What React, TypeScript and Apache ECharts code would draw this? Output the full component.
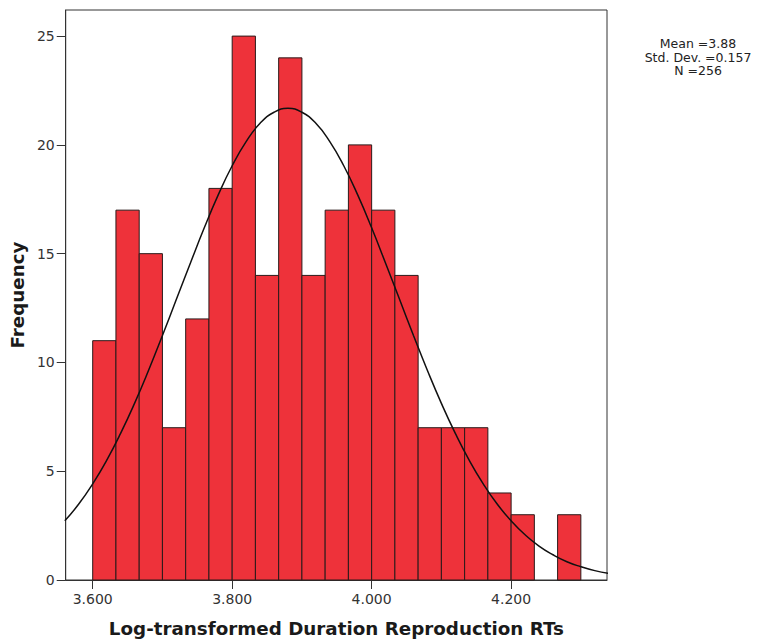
import React, { useEffect, useRef } from "react";
import * as echarts from "echarts";

// Histogram bins: first bin starts at 3.600, each bin is 1/30 wide
const binStart = 3.6;
const binWidth = 1 / 30;
const counts = [11, 17, 15, 7, 12, 18, 25, 14, 24, 14, 17, 20, 17, 14, 7, 7, 7, 4, 3, 0, 3];

// Fitted normal curve
const curveX = [
  3.56, 3.58, 3.6, 3.62, 3.64, 3.66, 3.68, 3.7, 3.72, 3.74, 3.76, 3.78, 3.8, 3.82, 3.84, 3.86, 3.88,
  3.9, 3.92, 3.94, 3.96, 3.98, 4.0, 4.02, 4.04, 4.06, 4.08, 4.1, 4.12, 4.14, 4.16, 4.18, 4.2, 4.22,
  4.24, 4.26, 4.28, 4.3, 4.32, 4.34,
];
const curveY = [
  2.72, 3.49, 4.42, 5.5, 6.74, 8.12, 9.63, 11.24, 12.9, 14.56, 16.19, 17.7, 19.04, 20.15, 20.99,
  21.5, 21.68, 21.5, 20.99, 20.15, 19.04, 17.7, 16.19, 14.56, 12.9, 11.24, 9.63, 8.12, 6.74, 5.5,
  4.42, 3.49, 2.72, 2.08, 1.56, 1.16, 0.84, 0.61, 0.43, 0.3,
];

const xTicks = [3.6, 3.8, 4.0, 4.2];
const yTicks = [0, 5, 10, 15, 20, 25];
const statsLines = ["Mean =3.88", "Std. Dev. =0.157", "N =256"];
const xTitle = "Log-transformed Duration Reproduction RTs";
const yTitle = "Frequency";

const FONT = "DejaVu Sans";

export default function App() {
  const ref = useRef<HTMLDivElement>(null);
  useEffect(() => {
    if (!ref.current) return;
    const chart = echarts.init(ref.current, null, { renderer: "svg" });
    const barData = counts.map((c, i) => [binStart + i * binWidth, binStart + (i + 1) * binWidth, c]);
    chart.setOption({
      animation: false,
      backgroundColor: "#ffffff",
      grid: {
        left: 65,
        right: 158,
        top: 10,
        bottom: 62,
        show: true,
        borderColor: "#333333",
        borderWidth: 1,
        backgroundColor: "transparent",
      },
      xAxis: {
        type: "value",
        min: 3.5613,
        max: 4.3375,
        name: xTitle,
        nameLocation: "middle",
        nameGap: 39,
        nameTextStyle: { fontFamily: FONT, fontSize: 18.3, fontWeight: "bold", color: "#1a1a1a" },
        axisLine: { show: true, lineStyle: { color: "#333333", width: 1 } },
        axisTick: { show: true, customValues: xTicks, length: 9, lineStyle: { color: "#333333" } },
        axisLabel: {
          customValues: xTicks,
          formatter: (v: number) => v.toFixed(3),
          fontFamily: FONT,
          fontSize: 14,
          color: "#333333",
          margin: 12,
        },
        splitLine: { show: false },
      },
      yAxis: {
        type: "value",
        min: 0,
        max: 26.2,
        name: yTitle,
        nameLocation: "middle",
        nameGap: 31,
        nameTextStyle: { fontFamily: FONT, fontSize: 18.3, fontWeight: "bold", color: "#1a1a1a" },
        axisLine: { show: true, lineStyle: { color: "#333333", width: 1 } },
        axisTick: { show: true, customValues: yTicks, length: 9, lineStyle: { color: "#333333" } },
        axisLabel: {
          customValues: yTicks,
          fontFamily: FONT,
          fontSize: 14,
          color: "#333333",
          margin: 11,
        },
        splitLine: { show: false },
      },
      series: [
        {
          type: "custom",
          data: barData,
          encode: { x: [0, 1], y: 2 },
          renderItem: (params: any, api: any) => {
            const x0 = api.value(0);
            const x1 = api.value(1);
            const c = api.value(2);
            if (!c) return null;
            const p0 = api.coord([x0, c]);
            const p1 = api.coord([x1, 0]);
            return {
              type: "rect",
              shape: { x: p0[0], y: p0[1], width: p1[0] - p0[0], height: p1[1] - p0[1] },
              style: { fill: "#EE323A", stroke: "#2a1a1a", lineWidth: 1 },
            };
          },
          z: 2,
        },
        {
          type: "line",
          data: curveX.map((x, i) => [x, curveY[i]]),
          smooth: true,
          showSymbol: false,
          symbol: "none",
          lineStyle: { color: "#111111", width: 1.5 },
          clip: true,
          z: 3,
        },
      ],
      graphic: statsLines.map((t, i) => ({
        type: "text",
        x: 698,
        y: 37 + i * 13.5,
        style: {
          text: t,
          fontFamily: FONT,
          fontSize: 12.5,
          fill: "#222222",
          textAlign: "center",
          textVerticalAlign: "top",
        },
      })),
    });
    return () => chart.dispose();
  }, []);
  return (
    <div
      ref={ref}
      style={{ position: "fixed", left: 0, top: 0, width: 765, height: 642, overflow: "hidden" }}
    />
  );
}
